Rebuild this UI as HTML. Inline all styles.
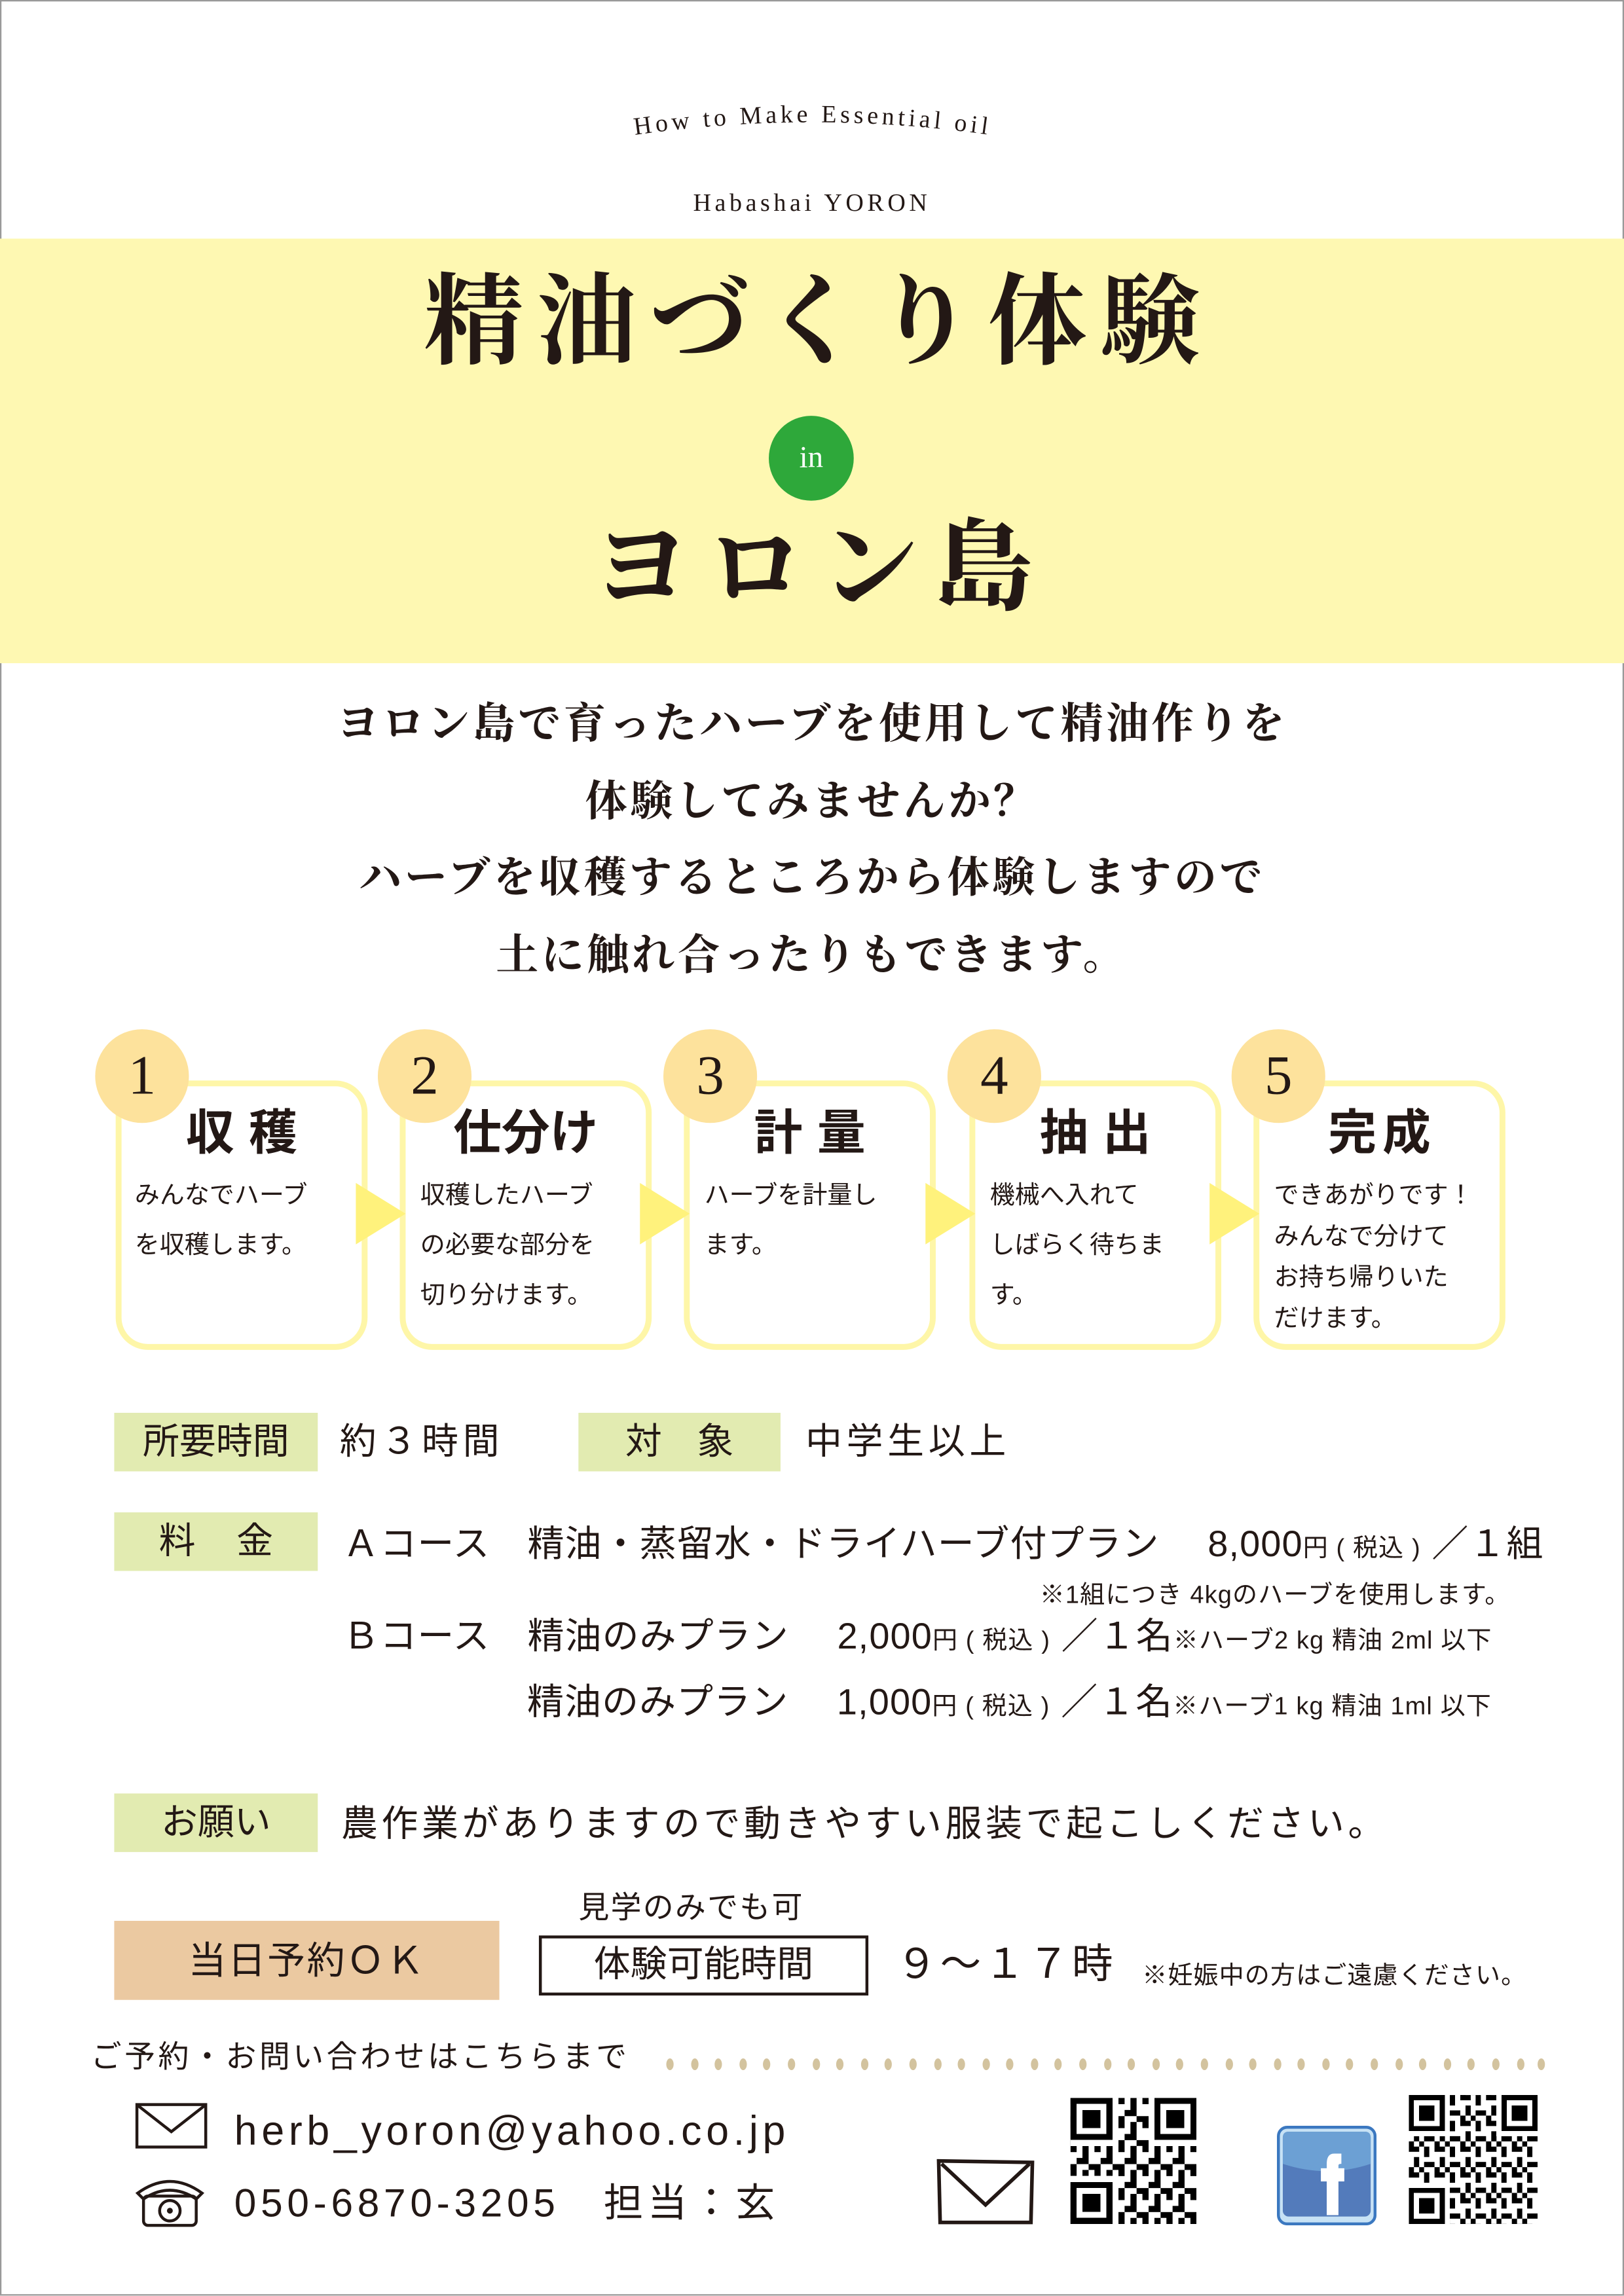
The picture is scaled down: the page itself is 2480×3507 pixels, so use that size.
<!DOCTYPE html>
<html><head><meta charset="utf-8">
<style>
html,body{margin:0;padding:0;background:#fff;}
body{width:2480px;height:3507px;overflow:hidden;position:relative;}
#p{position:absolute;left:0;top:0;width:1109px;height:1568px;transform:scale(2.23625);transform-origin:0 0;font-family:"Liberation Sans","Noto Sans CJK JP",sans-serif;color:#231815;}
.a{position:absolute;white-space:nowrap;}
.sf{font-family:"Liberation Serif","Noto Serif CJK SC",serif;}
.c{left:0;width:1109px;text-align:center;}
.box{position:absolute;top:738px;width:164px;height:176px;border:4px solid #fef6a8;border-radius:22px;background:#fff;}
.num{position:absolute;top:701px;width:64px;height:64px;border-radius:50%;background:#fde29c;font-family:"Liberation Serif",serif;font-size:38px;line-height:64px;text-align:center;}
.st{position:absolute;top:752px;width:172px;text-align:center;font-size:33px;font-weight:bold;line-height:44px;white-space:nowrap;}
.sb{position:absolute;top:800px;font-size:17px;line-height:34px;white-space:nowrap;}
.tri{position:absolute;top:808px;width:0;height:0;border-top:21px solid transparent;border-bottom:21px solid transparent;border-left:34px solid #fff27c;}
.lab{position:absolute;background:#e2ebb1;height:40px;width:139px;font-size:25px;line-height:40px;text-align:center;white-space:nowrap;}
.t{position:absolute;white-space:nowrap;font-size:25px;line-height:30px;}
.dot{position:absolute;top:1406px;width:5px;height:8px;border-radius:50%;background:#d3c39e;}
.sm{font-size:17px;}
</style></head><body><div id="p">
<div style="position:absolute;left:0;top:0;width:1107px;height:1566px;border:1px solid #999;"></div>
<svg class="a" style="left:400px;top:62px" width="310" height="40"><path id="arc" d="M15 33 Q155 10 295 33" fill="none"/><text font-family="Liberation Serif,serif" font-size="17" letter-spacing="2.5" fill="#231815"><textPath href="#arc" startOffset="50%" text-anchor="middle">How to Make Essential oil</textPath></text></svg>
<div class="a c sf" style="top:128px;font-size:17px;letter-spacing:2.5px;line-height:22px;">Habashai YORON</div>
<div class="a" style="left:0;top:163px;width:1109px;height:290px;background:#fef8b2;"></div>
<div class="a c sf" style="top:180px;font-size:68px;line-height:80px;font-weight:bold;letter-spacing:9px;text-indent:9px;">精油づくり体験</div>
<div class="a sf" style="left:525px;top:284px;width:58px;height:58px;border-radius:50%;background:#2ea83a;color:#fff;font-size:21px;line-height:56px;text-align:center;">in</div>
<div class="a c sf" style="top:348px;font-size:68px;line-height:80px;font-weight:bold;letter-spacing:10px;text-indent:10px;">ヨロン島</div>
<div class="a c sf" style="top:477px;font-size:29px;line-height:36px;font-weight:bold;letter-spacing:2px;">ヨロン島で育ったハーブを使用して精油作りを</div>
<div class="a c sf" style="top:530px;font-size:29px;line-height:36px;font-weight:bold;letter-spacing:2px;">体験してみませんか？</div>
<div class="a c sf" style="top:582px;font-size:29px;line-height:36px;font-weight:bold;letter-spacing:2px;">ハーブを収穫するところから体験しますので</div>
<div class="a c sf" style="top:635px;font-size:29px;line-height:36px;font-weight:bold;letter-spacing:2px;">土に触れ合ったりもできます。</div>

<div class="box" style="left:79px"></div><div class="box" style="left:273px"></div><div class="box" style="left:467px"></div><div class="box" style="left:662px"></div><div class="box" style="left:856px"></div>
<div class="tri" style="left:243px"></div><div class="tri" style="left:437px"></div><div class="tri" style="left:632px"></div><div class="tri" style="left:826px"></div>
<div class="num" style="left:65px;top:703px">1</div><div class="num" style="left:258px;top:703px">2</div><div class="num" style="left:453px;top:703px">3</div><div class="num" style="left:647px;top:703px">4</div><div class="num" style="left:841px;top:703px">5</div>
<div class="st" style="left:79px;letter-spacing:10px;text-indent:10px">収穫</div>
<div class="st" style="left:273px">仕分け</div>
<div class="st" style="left:467px;letter-spacing:10px;text-indent:10px">計量</div>
<div class="st" style="left:662px;letter-spacing:10px;text-indent:10px">抽出</div>
<div class="st" style="left:856px;letter-spacing:4px;text-indent:4px">完成</div>
<div class="sb" style="left:92px">みんなでハーブ<br>を収穫します。</div>
<div class="sb" style="left:287px">収穫したハーブ<br>の必要な部分を<br>切り分けます。</div>
<div class="sb" style="left:481px">ハーブを計量し<br>ます。</div>
<div class="sb" style="left:676px">機械へ入れて<br>しばらく待ちま<br>す。</div>
<div class="sb" style="left:870px;line-height:28px;top:803px">できあがりです！<br>みんなで分けて<br>お持ち帰りいた<br>だけます。</div>

<div class="lab" style="left:78px;top:965px">所要時間</div>
<div class="t" style="left:232px;top:970px;letter-spacing:3px">約３時間</div>
<div class="lab" style="left:395px;top:965px;width:138px;letter-spacing:24px;text-indent:24px">対象</div>
<div class="t" style="left:550px;top:970px;letter-spacing:3px">中学生以上</div>
<div class="lab" style="left:78px;top:1033px;letter-spacing:28px;text-indent:28px">料金</div>
<div class="t" style="left:234px;top:1040px;letter-spacing:0.5px">Ａコース　精油・蒸留水・ドライハーブ付プラン　 8,000<span class="sm">円 ( 税込 )</span> ／１組</div>
<div class="t" style="left:710px;top:1079px;font-size:17px;line-height:22px;letter-spacing:0.5px">※1組につき 4kgのハーブを使用します。</div>
<div class="t" style="left:234px;top:1103px;letter-spacing:0.5px">Ｂコース　精油のみプラン　 2,000<span class="sm">円 ( 税込 )</span> ／１名<span class="sm">※ハーブ2 kg 精油 2ml 以下</span></div>
<div class="t" style="left:360px;top:1148px;letter-spacing:0.5px">精油のみプラン　 1,000<span class="sm">円 ( 税込 )</span> ／１名<span class="sm">※ハーブ1 kg 精油 1ml 以下</span></div>
<div class="lab" style="left:78px;top:1225px">お願い</div>
<div class="t" style="left:233px;top:1231px;letter-spacing:2.5px">農作業がありますので動きやすい服装で起こしください。</div>

<div class="t" style="left:395px;top:1292px;font-size:21px;line-height:24px;letter-spacing:1px">見学のみでも可</div>
<div class="a" style="left:78px;top:1312px;width:263px;height:54px;background:#ebc9a1;font-size:26px;line-height:54px;text-align:center;letter-spacing:1px">当日予約ＯＫ</div>
<div class="a" style="left:368px;top:1322px;width:221px;height:37px;border:2px solid #231815;font-size:25px;line-height:37px;text-align:center;">体験可能時間</div>
<div class="t" style="left:612px;top:1326px;font-size:28px;line-height:32px;letter-spacing:2px">９～１７時</div>
<div class="t" style="left:780px;top:1339px;font-size:17px;line-height:22px;letter-spacing:0.5px">※妊娠中の方はご遠慮ください。</div>
<div class="t" style="left:62px;top:1393px;font-size:21px;line-height:26px;letter-spacing:2px">ご予約・お問い合わせはこちらまで</div>
<svg class="a" style="left:92px;top:1436px" width="50" height="32"><rect x="1.5" y="1.5" width="47" height="29" fill="none" stroke="#231815" stroke-width="2"/><path d="M2 2 L25 20 L48 2" fill="none" stroke="#231815" stroke-width="2"/></svg>
<div class="t" style="left:160px;top:1440px;font-size:28px;line-height:32px;letter-spacing:3px">herb_yoron@yahoo.co.jp</div>
<svg class="a" style="left:90px;top:1484px" width="52" height="38"><path d="M4 14 Q26 -2 48 14 L44 18 Q26 6 8 18 Z" fill="none" stroke="#231815" stroke-width="2"/><rect x="8" y="16" width="36" height="20" rx="3" fill="none" stroke="#231815" stroke-width="2"/><circle cx="26" cy="26" r="7" fill="none" stroke="#231815" stroke-width="2"/><circle cx="26" cy="26" r="2" fill="#231815"/></svg>
<div class="t" style="left:160px;top:1489px;font-size:27px;line-height:32px;letter-spacing:3px">050-6870-3205　担当：玄</div>
<svg class="a" style="left:639px;top:1474px" width="68" height="46"><path d="M2 2 L66 3 L65 44 L3 44 Z" fill="none" stroke="#231815" stroke-width="2.5"/><path d="M4 4 L34 32 L64 4" fill="none" stroke="#231815" stroke-width="2.5"/></svg>
<svg class="a" style="left:731px;top:1432px" width="86" height="88" viewBox="0 0 21 21" shape-rendering="crispEdges">
<defs><pattern id="q" width="4" height="4" patternUnits="userSpaceOnUse"><rect x="0" y="0" width="1" height="1"/><rect x="2" y="0" width="1" height="2"/><rect x="1" y="2" width="2" height="1"/><rect x="3" y="3" width="1" height="1"/><rect x="0" y="3" width="1" height="1"/></pattern></defs>
<rect width="21" height="21" fill="url(#q)"/>
<rect x="0" y="0" width="8" height="8" fill="#fff"/><rect x="13" y="0" width="8" height="8" fill="#fff"/><rect x="0" y="13" width="8" height="8" fill="#fff"/>
<g fill="none" stroke="#000"><rect x="0.5" y="0.5" width="6" height="6"/><rect x="14.5" y="0.5" width="6" height="6"/><rect x="0.5" y="14.5" width="6" height="6"/></g>
<rect x="2" y="2" width="3" height="3"/><rect x="16" y="2" width="3" height="3"/><rect x="2" y="16" width="3" height="3"/></svg>
<svg class="a" style="left:872px;top:1452px" width="68" height="68"><rect x="1" y="1" width="66" height="66" rx="6" fill="#c7e2f5" stroke="#3b78c0" stroke-width="2"/><rect x="4" y="4" width="60" height="58" rx="4" fill="#537bbb"/><path d="M4 8 Q4 4 8 4 L60 4 Q64 4 64 8 L64 26 Q34 36 4 26 Z" fill="#6ca0d4"/><path d="M44 19 L39 19 Q34 19 34 26 L34 29 L30 29 L30 38 L34 38 L34 61 L42 61 L42 38 L46 38 L46 29 L42 29 L42 27 Q42 26 44 26 Z" fill="#fff"/></svg>
<svg class="a" style="left:962px;top:1430px" width="88" height="90" viewBox="0 0 25 25" shape-rendering="crispEdges">
<defs><pattern id="q2" width="5" height="5" patternUnits="userSpaceOnUse"><rect x="0" y="0" width="2" height="1"/><rect x="3" y="0" width="1" height="2"/><rect x="1" y="2" width="1" height="2"/><rect x="3" y="3" width="2" height="1"/><rect x="0" y="4" width="1" height="1"/><rect x="2" y="4" width="1" height="1"/></pattern></defs>
<rect width="25" height="25" fill="url(#q2)"/>
<rect x="0" y="0" width="8" height="8" fill="#fff"/><rect x="17" y="0" width="8" height="8" fill="#fff"/><rect x="0" y="17" width="8" height="8" fill="#fff"/>
<g fill="none" stroke="#000"><rect x="0.5" y="0.5" width="6" height="6"/><rect x="18.5" y="0.5" width="6" height="6"/><rect x="0.5" y="18.5" width="6" height="6"/></g>
<rect x="2" y="2" width="3" height="3"/><rect x="20" y="2" width="3" height="3"/><rect x="2" y="20" width="3" height="3"/></svg>
<div class="dot" style="left:455px"></div><div class="dot" style="left:472px"></div><div class="dot" style="left:488px"></div><div class="dot" style="left:505px"></div><div class="dot" style="left:521px"></div><div class="dot" style="left:538px"></div><div class="dot" style="left:555px"></div><div class="dot" style="left:571px"></div><div class="dot" style="left:588px"></div><div class="dot" style="left:604px"></div><div class="dot" style="left:621px"></div><div class="dot" style="left:638px"></div><div class="dot" style="left:654px"></div><div class="dot" style="left:671px"></div><div class="dot" style="left:687px"></div><div class="dot" style="left:704px"></div><div class="dot" style="left:720px"></div><div class="dot" style="left:737px"></div><div class="dot" style="left:754px"></div><div class="dot" style="left:770px"></div><div class="dot" style="left:787px"></div><div class="dot" style="left:803px"></div><div class="dot" style="left:820px"></div><div class="dot" style="left:837px"></div><div class="dot" style="left:853px"></div><div class="dot" style="left:870px"></div><div class="dot" style="left:886px"></div><div class="dot" style="left:903px"></div><div class="dot" style="left:919px"></div><div class="dot" style="left:936px"></div><div class="dot" style="left:953px"></div><div class="dot" style="left:969px"></div><div class="dot" style="left:986px"></div><div class="dot" style="left:1002px"></div><div class="dot" style="left:1019px"></div><div class="dot" style="left:1036px"></div><div class="dot" style="left:1050px"></div>
</div></body></html>
